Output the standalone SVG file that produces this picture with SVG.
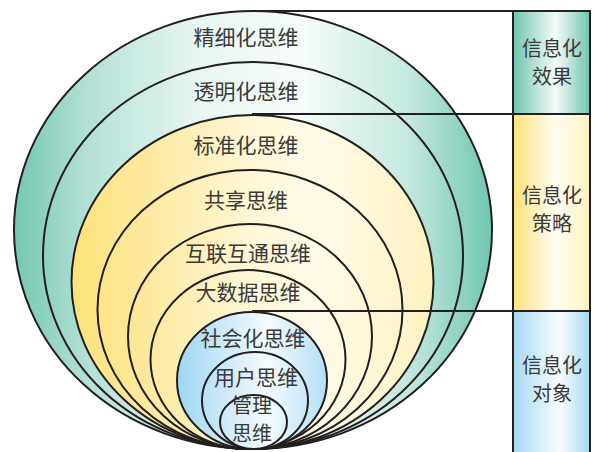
<svg xmlns="http://www.w3.org/2000/svg" width="594" height="452" viewBox="0 0 594 452">
<defs>
<linearGradient id="gGreen" gradientUnits="userSpaceOnUse" x1="15" y1="0" x2="493" y2="0">
<stop offset="0" stop-color="#74c8b3"/>
<stop offset="0.15" stop-color="#b3e0d5"/>
<stop offset="0.38" stop-color="#e9f6f2"/>
<stop offset="0.6" stop-color="#f6fcfa"/>
<stop offset="0.82" stop-color="#c5e8df"/>
<stop offset="1" stop-color="#70c6b1"/>
</linearGradient>
<linearGradient id="gYellow" gradientUnits="userSpaceOnUse" x1="72" y1="0" x2="433" y2="0">
<stop offset="0" stop-color="#fde27a"/>
<stop offset="0.2" stop-color="#fde99e"/>
<stop offset="0.5" stop-color="#fff7d6"/>
<stop offset="0.68" stop-color="#fffbe8"/>
<stop offset="1" stop-color="#fff2c0"/>
</linearGradient>
<linearGradient id="gBlue" gradientUnits="userSpaceOnUse" x1="177" y1="0" x2="327" y2="0">
<stop offset="0" stop-color="#9fd6f2"/>
<stop offset="0.6" stop-color="#f5fbfe"/>
<stop offset="1" stop-color="#b3dff5"/>
</linearGradient>
<linearGradient id="bGreen" x1="0" y1="0" x2="1" y2="0">
<stop offset="0" stop-color="#6fc5b0"/>
<stop offset="0.55" stop-color="#f5fbf9"/>
<stop offset="1" stop-color="#6fc5b0"/>
</linearGradient>
<linearGradient id="bYellow" x1="0" y1="0" x2="1" y2="0">
<stop offset="0" stop-color="#fde27a"/>
<stop offset="0.55" stop-color="#fffdf3"/>
<stop offset="1" stop-color="#fff2c0"/>
</linearGradient>
<linearGradient id="bBlue" x1="0" y1="0" x2="1" y2="0">
<stop offset="0" stop-color="#a6d9f2"/>
<stop offset="0.6" stop-color="#f8fcfe"/>
<stop offset="1" stop-color="#a6d9f2"/>
</linearGradient>
</defs>
<style>
.ring{stroke:#231f20;stroke-width:2}
.g{fill:url(#gGreen)}
.y{fill:url(#gYellow)}
.b{fill:url(#gBlue)}
.lbl{font-family:"Noto Sans CJK SC","Noto Sans",sans-serif;font-size:21px;fill:#3a3a3a;text-anchor:middle}
.sm{font-size:20px}
.box{stroke:#231f20;stroke-width:2}
.conn{stroke:#231f20;stroke-width:2;fill:none}
</style>
<g id="ring-jingxihua">
<ellipse class="ring g" cx="253" cy="230" rx="239" ry="219"/>
<text class="lbl" x="246" y="45">精细化思维</text>
</g>
<g id="ring-toumignhua">
<ellipse class="ring g" cx="253" cy="255.5" rx="210" ry="193.5"/>
<text class="lbl" x="246" y="99">透明化思维</text>
</g>
<g id="ring-biaozhunhua">
<ellipse class="ring y" cx="252.5" cy="282" rx="181" ry="167"/>
<text class="lbl" x="246" y="153">标准化思维</text>
</g>
<g id="ring-gongxiang">
<ellipse class="ring y" cx="250" cy="309.5" rx="152.5" ry="139.5"/>
<text class="lbl" x="246" y="208">共享思维</text>
</g>
<g id="ring-hulianhutong">
<ellipse class="ring y" cx="250" cy="336.5" rx="122" ry="112.5"/>
<text class="lbl" x="248" y="261">互联互通思维</text>
</g>
<g id="ring-dashuju">
<ellipse class="ring y" cx="248" cy="359.5" rx="97.5" ry="89.5"/>
<text class="lbl" x="248" y="300">大数据思维</text>
</g>
<g id="ring-shehuihua">
<ellipse class="ring b" cx="252" cy="380.5" rx="75" ry="68.5"/>
<text class="lbl" x="253" y="346">社会化思维</text>
</g>
<g id="ring-yonghu">
<ellipse class="ring b" cx="255" cy="400.5" rx="53" ry="48.5"/>
<text class="lbl" x="256" y="385">用户思维</text>
</g>
<g id="ring-guanli">
<ellipse class="ring b" cx="253.5" cy="422" rx="33.5" ry="27"/>
<text class="lbl sm" x="252" y="413">管理</text>
<text class="lbl sm" x="252" y="441">思维</text>
</g>
<g id="box-xiaoguo">
<rect class="box" x="513" y="11" width="77" height="103" fill="url(#bGreen)"/>
<text class="lbl sm" x="552" y="56">信息化</text>
<text class="lbl sm" x="552" y="84">效果</text>
</g>
<g id="box-celue">
<rect class="box" x="513" y="114" width="77" height="197" fill="url(#bYellow)"/>
<text class="lbl sm" x="552" y="203">信息化</text>
<text class="lbl sm" x="552" y="231">策略</text>
</g>
<g id="box-duixiang">
<rect class="box" x="513" y="311" width="77" height="145" fill="url(#bBlue)"/>
<text class="lbl sm" x="552" y="373">信息化</text>
<text class="lbl sm" x="552" y="401">对象</text>
</g>
<g id="connectors">
<line class="conn" x1="253" y1="11" x2="513" y2="11"/>
<line class="conn" x1="252" y1="114" x2="513" y2="114"/>
<line class="conn" x1="252" y1="311" x2="513" y2="311"/>
</g>
</svg>
